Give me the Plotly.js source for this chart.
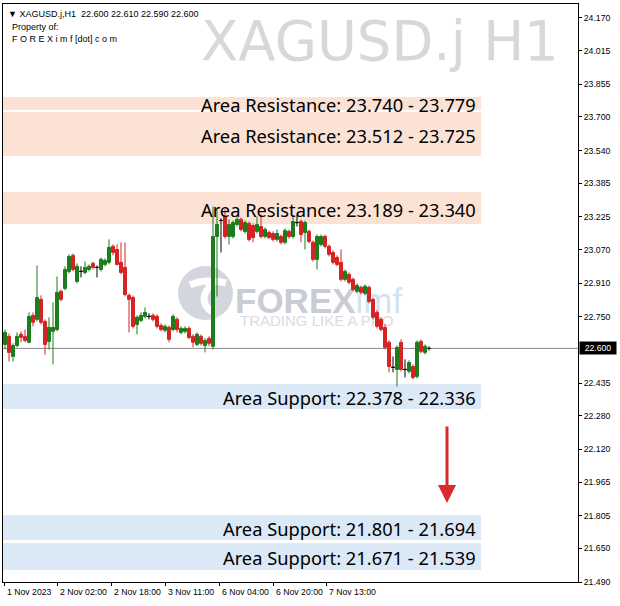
<!DOCTYPE html>
<html><head><meta charset="utf-8">
<script src="https://cdn.plot.ly/plotly-3.0.1.min.js"></script>
<style>html,body{margin:0;padding:0;background:#fff;}#chart{width:620px;height:606px;}</style>
</head><body><div id="chart"></div>
<script>
const symbol = 'XAGUSD.j';
const timeframe = 'H1';
const openP  = [22.619,22.657,22.562,22.614,22.667,22.657,22.629,22.757,22.738,22.833,22.728,22.633,22.681,22.690,22.871,22.885,22.966,23.042,22.918,22.966,22.961,22.975,23.004,22.985,22.975,22.999,23.009,23.085,23.070,23.009,22.985,22.852,22.842,22.714,22.733,22.752,22.752,22.757,22.752,22.709,22.686,22.700,22.690,22.738,22.676,22.681,22.695,22.657,22.619,22.657,22.614,22.648,22.610,23.132,23.208,23.227,23.132,23.132,23.189,23.213,23.156,23.194,23.184,23.156,23.179,23.132,23.151,23.146,23.118,23.132,23.104,23.156,23.132,23.198,23.203,23.151,23.156,23.104,23.023,23.094,23.132,23.085,23.056,23.032,23.009,22.928,22.952,22.928,22.871,22.890,22.861,22.890,22.833,22.771,22.738,22.700,22.629,22.510,22.500,22.629,22.500,22.491,22.514,22.467,22.633,22.581,22.600];
const highP  = [22.690,22.671,22.624,22.676,22.681,22.690,22.771,22.771,22.994,22.852,22.738,22.748,22.819,22.942,22.880,22.990,23.047,23.051,23.004,22.990,23.013,22.999,23.013,22.994,23.032,23.028,23.118,23.094,23.094,23.104,23.104,22.861,22.852,22.757,22.771,22.795,22.767,22.767,22.762,22.719,22.714,22.709,22.762,22.748,22.705,22.705,22.705,22.667,22.676,22.667,22.648,22.657,23.274,23.260,23.218,23.260,23.213,23.208,23.232,23.222,23.208,23.203,23.194,23.227,23.236,23.175,23.160,23.156,23.165,23.141,23.170,23.165,23.232,23.236,23.213,23.208,23.165,23.113,23.141,23.141,23.141,23.094,23.066,23.042,23.070,22.975,22.961,22.937,22.909,22.899,22.904,22.899,22.842,22.781,22.748,22.714,22.638,22.562,22.614,22.643,22.548,22.543,22.524,22.638,22.643,22.619,22.610];
const lowP   = [22.595,22.538,22.538,22.605,22.629,22.629,22.624,22.705,22.728,22.714,22.571,22.595,22.524,22.681,22.823,22.876,22.956,22.966,22.909,22.937,22.952,22.966,22.975,22.937,22.966,22.990,22.999,23.042,22.994,22.952,22.847,22.676,22.695,22.667,22.724,22.743,22.738,22.728,22.695,22.681,22.676,22.629,22.681,22.676,22.667,22.671,22.643,22.605,22.610,22.614,22.581,22.610,22.595,22.847,23.056,23.122,23.094,23.122,23.179,23.156,23.146,23.108,23.104,23.146,23.122,23.122,23.118,23.108,23.108,23.094,23.094,23.122,23.122,23.179,23.104,23.070,23.099,23.013,22.975,23.085,23.075,23.037,22.999,22.990,22.918,22.918,22.904,22.871,22.861,22.856,22.852,22.814,22.738,22.695,22.681,22.595,22.486,22.486,22.419,22.491,22.462,22.481,22.453,22.457,22.576,22.571,22.590];
const closeP = [22.676,22.581,22.614,22.657,22.652,22.638,22.752,22.724,22.842,22.724,22.619,22.700,22.700,22.866,22.833,22.975,23.037,22.975,22.990,22.966,22.985,22.990,22.985,22.985,23.023,23.018,23.080,23.056,22.999,22.961,22.856,22.833,22.705,22.748,22.757,22.771,22.752,22.738,22.705,22.690,22.705,22.643,22.752,22.690,22.695,22.695,22.652,22.629,22.667,22.624,22.638,22.624,23.132,23.189,23.208,23.132,23.189,23.198,23.213,23.165,23.198,23.118,23.127,23.189,23.132,23.165,23.127,23.118,23.146,23.104,23.160,23.132,23.203,23.198,23.141,23.198,23.108,23.023,23.132,23.132,23.085,23.047,23.009,22.999,22.928,22.966,22.914,22.880,22.899,22.866,22.895,22.823,22.748,22.705,22.690,22.605,22.514,22.510,22.605,22.500,22.500,22.533,22.462,22.629,22.586,22.610,22.600];

const xTickPos  = [-0.25, 13, 26.5, 40, 53.5, 67, 80.25];
const xTickText = ['1 Nov 2023','2 Nov 02:00','2 Nov 18:00','3 Nov 11:00','6 Nov 04:00','6 Nov 20:00','7 Nov 13:00'];
const yTickVals = [24.170,24.015,23.855,23.700,23.540,23.385,23.225,23.070,22.910,22.750,22.435,22.280,22.120,21.965,21.805,21.650,21.490];
const yTickText = ['24.170','24.015','23.855','23.700','23.540','23.385','23.225','23.070','22.910','22.750','22.435','22.280','22.120','21.965','21.805','21.650','21.490'];

const zoneKind = ['res','res','res','sup','sup','sup'];
const zoneLow  = [23.733, 23.514, 23.191, 22.312, 21.689, 21.547];
const zoneHigh = [23.795, 23.723, 23.343, 22.431, 21.808, 21.675];
const zoneText = ['Area Resistance: 23.740 - 23.779','Area Resistance: 23.512 - 23.725','Area Resistance: 23.189 - 23.340',
                  'Area Support: 22.378 - 22.336','Area Support: 21.801 - 21.694','Area Support: 21.671 - 21.539'];
const lastPrice = 22.600;
const arrowTip = {bar: 110.5, price: 21.865};

const GREEN = '#1d7d1d', RED = '#d42424';
const idx = openP.map((_, i) => i);
const body = idx.filter(i => openP[i] !== closeP[i]);
const doji = idx.filter(i => openP[i] === closeP[i]);
const pick = (arr, ids) => ids.map(i => arr[i]);

const traces = [
  {type:'candlestick', x: body, open: pick(openP, body), high: pick(highP, body), low: pick(lowP, body), close: pick(closeP, body),
   increasing:{line:{color:GREEN,width:1}, fillcolor:GREEN}, decreasing:{line:{color:RED,width:1}, fillcolor:RED},
   whiskerwidth:0, hoverinfo:'skip', showlegend:false},
  {type:'candlestick', x: doji, open: pick(openP, doji), high: pick(highP, doji), low: pick(lowP, doji), close: pick(closeP, doji),
   increasing:{line:{color:'#000',width:1}, fillcolor:'#000'}, decreasing:{line:{color:'#000',width:1}, fillcolor:'#000'},
   whiskerwidth:0, hoverinfo:'skip', showlegend:false}
];

const small = {family:'Liberation Sans, Arial, sans-serif', size:9, color:'#000'};
const L = 3, R = 42, T = 4, B = 24, W = 620, H = 606;
const pw = W - L - R, ph = H - T - B;
const px = x => (x - L) / pw;          // pixel -> paper x
const py = y => 1 - (y - T) / ph;      // pixel -> paper y

const shapes = [];
zoneLow.forEach((lo, i) => {
  shapes.push({type:'rect', xref:'paper', yref:'y', x0:0, x1:px(481), y0:lo, y1:zoneHigh[i],
    fillcolor: zoneKind[i] === 'res' ? '#fce2d5' : '#dbe8f6', line:{width:0}, layer:'below'});
});
// watermark logo (below candles)
shapes.push({type:'circle', xref:'paper', yref:'paper', x0:px(178), x1:px(233), y0:py(320), y1:py(266),
  fillcolor:'#d3d6dc', line:{width:0}, layer:'below'});
shapes.push({type:'path', xref:'paper', yref:'paper', layer:'below', fillcolor:'rgba(0,0,0,0)',
  path:`M ${px(190)} ${py(285)} Q ${px(205)} ${py(278)} ${px(226)} ${py(283)} M ${px(212)} ${py(284)} Q ${px(196)} ${py(300)} ${px(212)} ${py(312)}`,
  line:{color:'#ffffff', width:7}});
shapes.push({type:'rect', xref:'paper', yref:'paper', x0:px(232), x1:px(410), y0:py(310), y1:py(284), layer:'below',
  line:{width:0}, fillcolor:'rgba(0,0,0,0)',
  label:{text:'<b>FOREX</b><span style="color:#d3e4f1">imf</span>', textposition:'middle left', padding:0,
         font:{family:'Liberation Sans, Arial, sans-serif', size:35, color:'#c9ccd4'}}});
shapes.push({type:'rect', xref:'paper', yref:'paper', x0:px(237), x1:px(410), y0:py(326), y1:py(312), layer:'below',
  line:{width:0}, fillcolor:'rgba(0,0,0,0)',
  label:{text:'TRADING LIKE A PRO', textposition:'middle left', padding:0,
         font:{family:'Liberation Sans, Arial, sans-serif', size:15, color:'#d9dce2'}}});
// current price line
shapes.push({type:'line', xref:'paper', yref:'y', x0:0, x1:1, y0:lastPrice, y1:lastPrice, line:{color:'#8a8a8a', width:1}, layer:'below'});

const annotations = [];
zoneText.forEach((t, i) => {
  annotations.push({xref:'paper', yref:'y', x:px(478), y:(zoneLow[i] + zoneHigh[i]) / 2, xanchor:'right', yanchor:'middle', yshift:-1,
    text:t, showarrow:false, font:{family:'Noto Sans, sans-serif', size:18.3, color:'#000'}});
});
xTickPos.forEach((p, i) => {
  annotations.push({xref:'x', yref:'paper', x:p, y:0, xanchor:'left', yanchor:'top', xshift:1, yshift:-3,
    text:xTickText[i], showarrow:false, font:{...small, size:8.7}});
});
const last = openP.length - 1;
annotations.push({xref:'paper', yref:'paper', x:0, y:1, xanchor:'left', yanchor:'top', xshift:3, yshift:-3, showarrow:false, font:small,
  text:`▼ ${symbol},${timeframe}\u00a0\u00a0${openP[last].toFixed(3)} ${highP[last].toFixed(3)} ${lowP[last].toFixed(3)} ${closeP[last].toFixed(3)}`});
annotations.push({xref:'paper', yref:'paper', x:0, y:1, xanchor:'left', yanchor:'top', xshift:7, yshift:-16, showarrow:false, font:small,
  text:'Property of:'});
annotations.push({xref:'paper', yref:'paper', x:0, y:1, xanchor:'left', yanchor:'top', xshift:7, yshift:-28, showarrow:false, font:small,
  text:'F O R E X i m f [dot] c o m'});
annotations.push({xref:'paper', yref:'paper', x:px(561), y:py(41), xanchor:'right', yanchor:'middle', showarrow:false,
  text:`${symbol} ${timeframe}`, font:{family:'DejaVu Sans, sans-serif', size:54.5, color:'#d8d8d8'}});
annotations.push({xref:'paper', yref:'y', x:1, y:lastPrice, xanchor:'left', yanchor:'middle', xshift:1, showarrow:false,
  text:lastPrice.toFixed(3), bgcolor:'#000', borderpad:1, width:34, font:{...small, size:8.7, color:'#fff'}});
annotations.push({xref:'x', yref:'y', x:arrowTip.bar, y:arrowTip.price, ax:0, ay:-78, axref:'pixel', ayref:'pixel',
  showarrow:true, arrowhead:2, arrowsize:1.2, arrowwidth:3, arrowcolor:'#d92b2b', text:''});

const layout = {
  width:W, height:H, margin:{l:L, r:R, t:T, b:B, pad:0},
  paper_bgcolor:'#fff', plot_bgcolor:'#fff', showlegend:false, hovermode:false,
  boxgap:0.25, boxgroupgap:0,
  xaxis:{range:[-0.5, 143.25], showgrid:false, zeroline:false, rangeslider:{visible:false},
         tickvals:xTickPos, showticklabels:false, ticks:'outside', ticklen:3, tickcolor:'#000',
         showline:true, mirror:true, linecolor:'#000', linewidth:1, fixedrange:true},
  yaxis:{range:[21.490, 24.2365], side:'right', showgrid:false, zeroline:false,
         tickvals:yTickVals, ticktext:yTickText, ticks:'outside', ticklen:3, tickcolor:'#000',
         tickfont:{...small, size:8.7}, showline:true, mirror:true, linecolor:'#000', linewidth:1, fixedrange:true},
  shapes, annotations
};
Plotly.newPlot('chart', traces, layout, {staticPlot:true, displayModeBar:false});
</script></body></html>
